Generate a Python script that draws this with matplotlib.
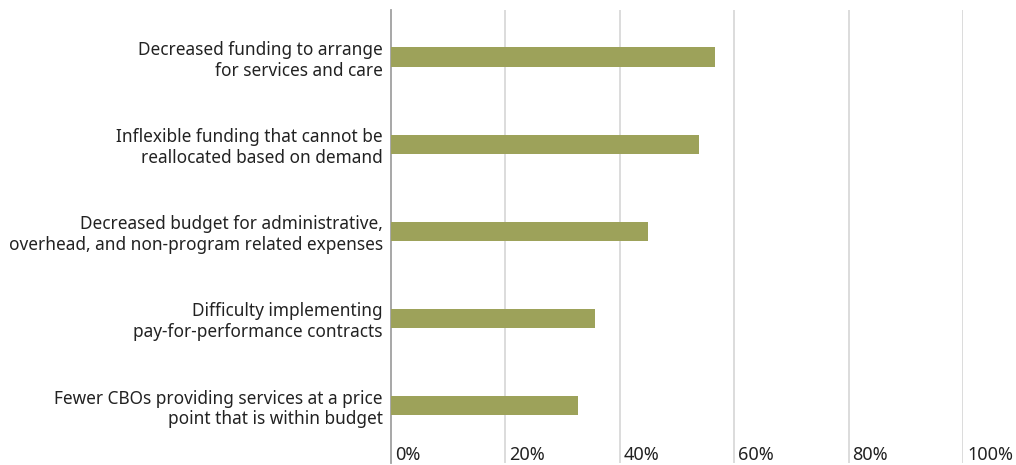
import matplotlib
matplotlib.use("Agg")
import matplotlib.pyplot as plt
from matplotlib.transforms import blended_transform_factory, offset_copy

categories = [
    "Decreased funding to arrange\nfor services and care",
    "Inflexible funding that cannot be\nreallocated based on demand",
    "Decreased budget for administrative,\noverhead, and non-program related expenses",
    "Difficulty implementing\npay-for-performance contracts",
    "Fewer CBOs providing services at a price\npoint that is within budget",
]
values = [56.7, 53.9, 44.9, 35.6, 32.7]
x_ticks = [0, 20, 40, 60, 80, 100]
x_tick_labels = ["0%", "20%", "40%", "60%", "80%", "100%"]

BAR_COLOR = "#9da25a"
GRID_COLOR = "#d9d9d9"
TEXT_COLOR = "#222222"

plt.rcParams["font.family"] = ["Noto Sans", "DejaVu Sans"]

W, H = 1016, 465
fig = plt.figure(figsize=(W / 100, H / 100), dpi=100)
# axes from x=391 (0%) to x=963 (100%), y from 10 to 463 px
ax = fig.add_axes([391 / W, (H - 463) / H, (963 - 391) / W, (463 - 10) / H])

n = len(categories)
ypos = [n - 1 - i for i in range(n)]
ax.barh(ypos, values, height=0.22, color=BAR_COLOR, zorder=3)

ax.set_xlim(0, 100)
ax.set_ylim(-0.66, 4.54)
ax.set_xticks([])
ax.set_yticks(ypos)
ax.set_yticklabels(categories, fontsize=12.4, color=TEXT_COLOR,
                   multialignment="right", linespacing=1.2)
ax.tick_params(axis="y", length=0, pad=6)

for x in x_ticks[1:]:
    ax.axvline(x, color=GRID_COLOR, lw=1.3, zorder=1)

for s in ["top", "right", "bottom"]:
    ax.spines[s].set_visible(False)
ax.spines["left"].set_color("#a0a0a0")
ax.spines["left"].set_linewidth(1.3)

trans = blended_transform_factory(ax.transData, ax.transAxes)
trans = offset_copy(trans, fig=fig, x=4, y=-1, units="dots")
for x, lab in zip(x_ticks, x_tick_labels):
    ax.text(x, 0.0, lab, transform=trans, ha="left", va="bottom",
            fontsize=13, color=TEXT_COLOR)

fig.savefig("out.png", dpi=100)
